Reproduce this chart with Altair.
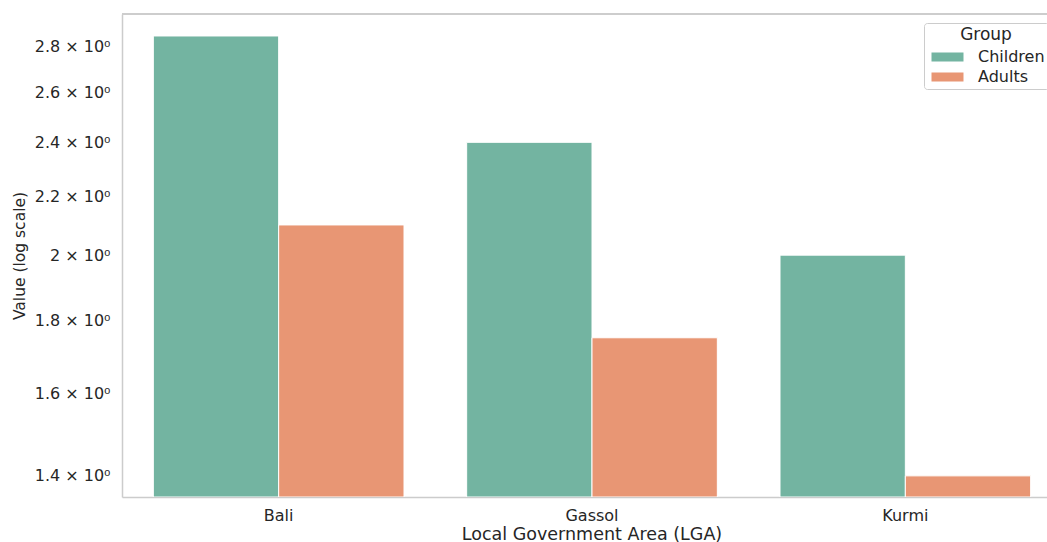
import altair as alt
import pandas as pd

# Values per LGA and group
lgas = ["Bali", "Gassol", "Kurmi"]
groups = ["Children", "Adults"]
children_values = [2.85, 2.40, 2.00]
adult_values = [2.10, 1.75, 1.40]
y_ticks = [1.4, 1.6, 1.8, 2.0, 2.2, 2.4, 2.6, 2.8]
group_colors = ["#73b4a1", "#e89674"]

rows = []
for lga, c, a in zip(lgas, children_values, adult_values):
    rows.append({"LGA": lga, "Group": "Children", "Value": c})
    rows.append({"LGA": lga, "Group": "Adults", "Value": a})
df = pd.DataFrame(rows)

PLOT_W = 925   # visible part of the plot area
BAND_W = 940   # full width of the category axis (extends past the right edge)
PLOT_H = 483
FONT = "DejaVu Sans"
TEXT = "#262626"
SPINE = "#cccccc"

# wide legend swatch: 32 x 9 px, anchored at its left edge
SWATCH = "M-1,-1L6.111,-1L6.111,1L-1,1Z"

bars = alt.Chart(df).mark_bar(stroke="white", strokeWidth=1, clip=True).encode(
    x=alt.X(
        "LGA:N",
        sort=lgas,
        title="Local Government Area (LGA)",
        scale=alt.Scale(paddingInner=0.2, paddingOuter=0.1, range=[0, BAND_W]),
        axis=alt.Axis(
            labelAngle=0,
            ticks=False,
            domain=True,
            grid=False,
            labelPadding=10,
            titlePadding=2,
            titleFontSize=17.5,
            titleX=PLOT_W / 2 + 7,
        ),
    ),
    xOffset=alt.XOffset(
        "Group:N", sort=groups, scale=alt.Scale(paddingInner=0, paddingOuter=0)
    ),
    y=alt.Y(
        "Value:Q",
        stack=None,
        title="Value (log scale)",
        scale=alt.Scale(type="log", domain=[1.353, 2.953], nice=False, zero=False),
        axis=alt.Axis(
            values=y_ticks,
            labelExpr="format(datum.value, '.1~f') + ' × 10⁰'",
            ticks=False,
            domain=True,
            grid=False,
            labelPadding=12,
            titlePadding=7,
            titleFontSize=15.5,
        ),
    ),
    color=alt.Color(
        "Group:N",
        sort=groups,
        scale=alt.Scale(domain=groups, range=group_colors),
        legend=alt.Legend(
            title="Group",
            orient="none",
            legendX=802,
            legendY=9,
            symbolType=SWATCH,
            symbolSize=81,
            symbolStrokeWidth=0,
            labelOffset=34,
            rowPadding=4,
            padding=4,
            fillColor="white",
            strokeColor=SPINE,
            cornerRadius=3,
            titleAnchor="middle",
            titleFontSize=17,
            titleFontWeight="normal",
            labelFontSize=16,
        ),
    ),
)

# top spine of the frame
top_spine = alt.Chart(df).mark_rule(color=SPINE, strokeWidth=1.5).encode(
    x=alt.value(0), x2=alt.value(PLOT_W), y=alt.value(0)
)

chart = (
    alt.layer(bars, top_spine)
    .properties(
        width=PLOT_W,
        height=PLOT_H,
        autosize=alt.AutoSizeParams(type="none"),
        padding={"left": 122, "top": 14, "right": 0, "bottom": 45},
        background="white",
    )
    .configure_view(stroke=None)
    .configure_axis(
        labelFont=FONT,
        titleFont=FONT,
        labelFontSize=16,
        titleFontWeight="normal",
        labelColor=TEXT,
        titleColor=TEXT,
        domainColor=SPINE,
        domainWidth=1.5,
    )
    .configure_legend(labelFont=FONT, titleFont=FONT, labelColor=TEXT, titleColor=TEXT)
)

chart.save("out.html", embed_options={"renderer": "svg", "actions": False})
